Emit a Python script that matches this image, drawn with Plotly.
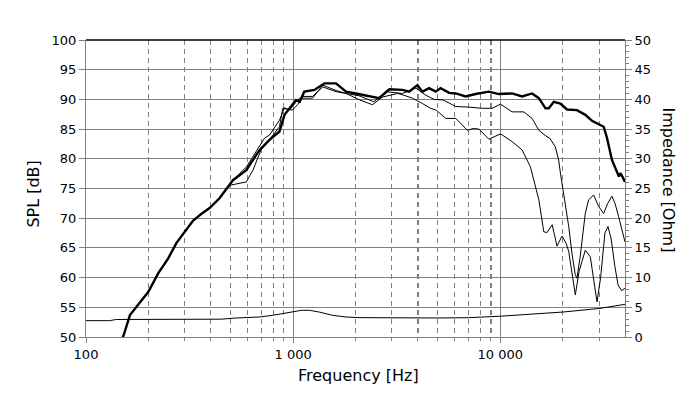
import plotly.graph_objects as go

# ---- data ----
freq_on = [145, 151, 163, 175, 200, 223, 249, 273, 300, 329, 360, 395, 442, 476, 512, 594, 689, 769, 859, 908,
           959, 1033, 1075, 1132, 1266, 1416, 1611, 1800, 2010, 2330, 2600, 2910, 3370, 3630, 3980, 4210, 4530,
           4880, 5150, 5670, 6100, 6810, 7600, 8810, 9830, 11400, 12740, 14240, 15350, 16530, 17150, 18120,
           19510, 20990, 23450, 25740, 27720, 31560, 32750, 34600, 36580, 37400, 37950, 38600, 40000]
spl_on = [49.0, 50.0, 53.7, 55.1, 57.6, 60.7, 63.2, 65.8, 67.7, 69.6, 70.7, 71.7, 73.4, 74.9, 76.4, 78.1, 81.5,
          83.2, 84.6, 87.4, 88.5, 89.9, 89.6, 91.3, 91.6, 92.7, 92.7, 91.3, 91.0, 90.6, 90.2, 91.7, 91.6, 91.3,
          92.4, 91.3, 91.9, 91.3, 91.9, 91.1, 91.0, 90.5, 90.9, 91.3, 90.9, 91.0, 90.5, 91.0, 90.2, 88.5, 88.5,
          89.6, 89.3, 88.3, 88.2, 87.4, 86.4, 85.4, 83.5, 79.8, 77.6, 77.0, 77.6, 77.2, 76.1]

freq_30 = [442, 476, 512, 594, 689, 728, 769, 859, 908, 959, 1071, 1240, 1390, 1611, 1800, 2085, 2455, 2800,
           3370, 3910, 4370, 4790, 5300, 6100, 7060, 8180, 9140, 10030, 11400, 12990, 14240, 15350, 16820,
           17300, 18450, 19130, 19510, 20460, 21400, 22200, 23000, 23450, 24300, 25720, 26700, 28250, 29800,
           31560, 33000, 34600, 35800, 37240, 38800, 40000]
spl_30 = [73.4, 74.9, 76.4, 78.6, 82.3, 83.5, 84.0, 86.5, 88.6, 88.2, 90.2, 90.2, 92.4, 91.5, 91.0, 90.6, 89.6,
          91.3, 91.0, 91.9, 90.7, 90.0, 89.9, 88.8, 88.7, 88.5, 88.5, 89.2, 87.9, 87.9, 86.8, 84.8, 83.7, 83.5,
          82.0, 79.8, 77.6, 73.1, 68.6, 64.0, 60.5, 59.9, 63.5, 70.8, 73.1, 73.9, 72.0, 70.8, 72.5, 73.7, 72.5,
          70.3, 68.0, 66.0]

freq_60 = [442, 476, 503, 594, 640, 700, 780, 859, 891, 992, 1050, 1112, 1240, 1390, 1611, 1800, 2100, 2415,
           2700, 3200, 3425, 3770, 4210, 4610, 4900, 5450, 6100, 6930, 7400, 7890, 8810, 10030, 11400, 12740,
           13960, 14520, 15350, 16220, 16820, 17800, 18790, 19870, 20770, 21400, 22300, 23030, 24000, 25720,
           27200, 28300, 29300, 30500, 32000, 33100, 34300, 35700, 37000, 38500, 40000]
spl_60 = [73.4, 74.9, 75.6, 76.1, 78.1, 81.5, 83.5, 85.4, 88.5, 88.2, 89.1, 90.5, 90.5, 92.1, 91.3, 91.0, 89.9,
          89.1, 90.4, 91.0, 90.7, 90.2, 89.3, 88.5, 88.2, 86.8, 86.8, 84.8, 85.1, 85.0, 83.3, 84.2, 82.9, 81.5,
          78.7, 76.4, 73.1, 67.7, 67.6, 68.9, 65.3, 67.0, 65.8, 64.4, 60.0, 57.1, 61.0, 64.6, 63.5, 59.0, 55.9,
          60.0, 67.5, 68.6, 66.5, 62.0, 58.8, 57.8, 58.2]

freq_z = [100, 130, 140, 450, 532, 689, 795, 890, 992, 1100, 1197, 1337, 1550, 1795, 2080, 3000, 5000, 7000,
          10000, 20000, 30000, 40000]
imp_z = [2.75, 2.75, 2.95, 3.0, 3.2, 3.37, 3.65, 3.94, 4.33, 4.5, 4.5, 4.2, 3.65, 3.37, 3.26, 3.2, 3.2, 3.25,
         3.5, 4.2, 4.8, 5.5]

x_major = [100, 1000, 10000]
x_major_text = ["100", "1 000", "10 000"]
x_minor = [200, 300, 400, 500, 600, 700, 800, 900,
           2000, 3000, 4000, 5000, 6000, 7000, 8000, 9000, 20000, 30000]
x_bold_minor = [4000, 9000]

FONT = "DejaVu Sans"
GRID = "#808080"
XRANGE = [2, 4.60206]

fig = go.Figure()
fig.add_trace(go.Scatter(x=freq_60, y=spl_60, mode="lines", line=dict(color="black", width=1),
                         xaxis="x", yaxis="y"))
fig.add_trace(go.Scatter(x=freq_30, y=spl_30, mode="lines", line=dict(color="black", width=1),
                         xaxis="x", yaxis="y"))
fig.add_trace(go.Scatter(x=freq_on, y=spl_on, mode="lines", line=dict(color="black", width=2.4),
                         xaxis="x", yaxis="y"))
fig.add_trace(go.Scatter(x=freq_z, y=imp_z, mode="lines", line=dict(color="black", width=1),
                         xaxis="x2", yaxis="y2"))

fig.update_layout(
    width=692, height=391,
    margin=dict(l=78, r=75, t=32, b=62),
    paper_bgcolor="white", plot_bgcolor="white",
    showlegend=False,
    font=dict(family=FONT, size=13, color="black"),
    xaxis=dict(
        type="log", range=XRANGE,
        tickmode="array", tickvals=x_major, ticktext=x_major_text,
        showgrid=True, gridcolor=GRID, gridwidth=1,
        showline=True, linecolor=GRID, linewidth=1,
        ticks="outside", ticklen=5, tickcolor=GRID,
        zeroline=False,
        minor=dict(tickmode="array", tickvals=x_minor, showgrid=True, gridcolor=GRID,
                   griddash="5px,4px", gridwidth=1, ticks="outside", ticklen=3, tickcolor=GRID),
        tickfont=dict(family=FONT, size=13),
    ),
    xaxis2=dict(
        type="log", range=XRANGE, overlaying="x", side="bottom",
        tickmode="array", tickvals=x_bold_minor, showticklabels=False, ticks="",
        showgrid=True, gridcolor=GRID, gridwidth=2, griddash="5px,4px",
        showline=False, zeroline=False,
    ),
    yaxis=dict(
        range=[50, 100], dtick=5, tick0=50,
        showgrid=True, gridcolor=GRID, gridwidth=1,
        showline=True, linecolor=GRID, linewidth=1,
        ticks="outside", ticklen=6, tickcolor=GRID,
        zeroline=False, tickfont=dict(family=FONT, size=13),
    ),
    yaxis2=dict(
        range=[0, 50], dtick=5, tick0=0, overlaying="y", side="right",
        showgrid=False, showline=True, linecolor=GRID, linewidth=1,
        ticks="outside", ticklen=6, tickcolor=GRID,
        minor=dict(dtick=1, ticks="outside", ticklen=3, tickcolor=GRID, showgrid=False),
        zeroline=False, tickfont=dict(family=FONT, size=13),
    ),
    shapes=[dict(type="line", xref="paper", yref="paper", x0=0, x1=1, y0=1, y1=1,
                 line=dict(color="black", width=1.5))],
    annotations=[
        dict(text="Frequency [Hz]", xref="paper", yref="paper", x=0.505, y=-0.128,
             showarrow=False, font=dict(family=FONT, size=16), xanchor="center", yanchor="middle"),
        dict(text="SPL [dB]", xref="paper", yref="paper", x=-0.098, y=0.48, textangle=-90,
             showarrow=False, font=dict(family=FONT, size=16), xanchor="center", yanchor="middle"),
        dict(text="Impedance [Ohm]", xref="paper", yref="paper", x=1.08, y=0.53, textangle=90,
             showarrow=False, font=dict(family=FONT, size=16), xanchor="center", yanchor="middle"),
    ],
)

fig.write_html("out.html")
